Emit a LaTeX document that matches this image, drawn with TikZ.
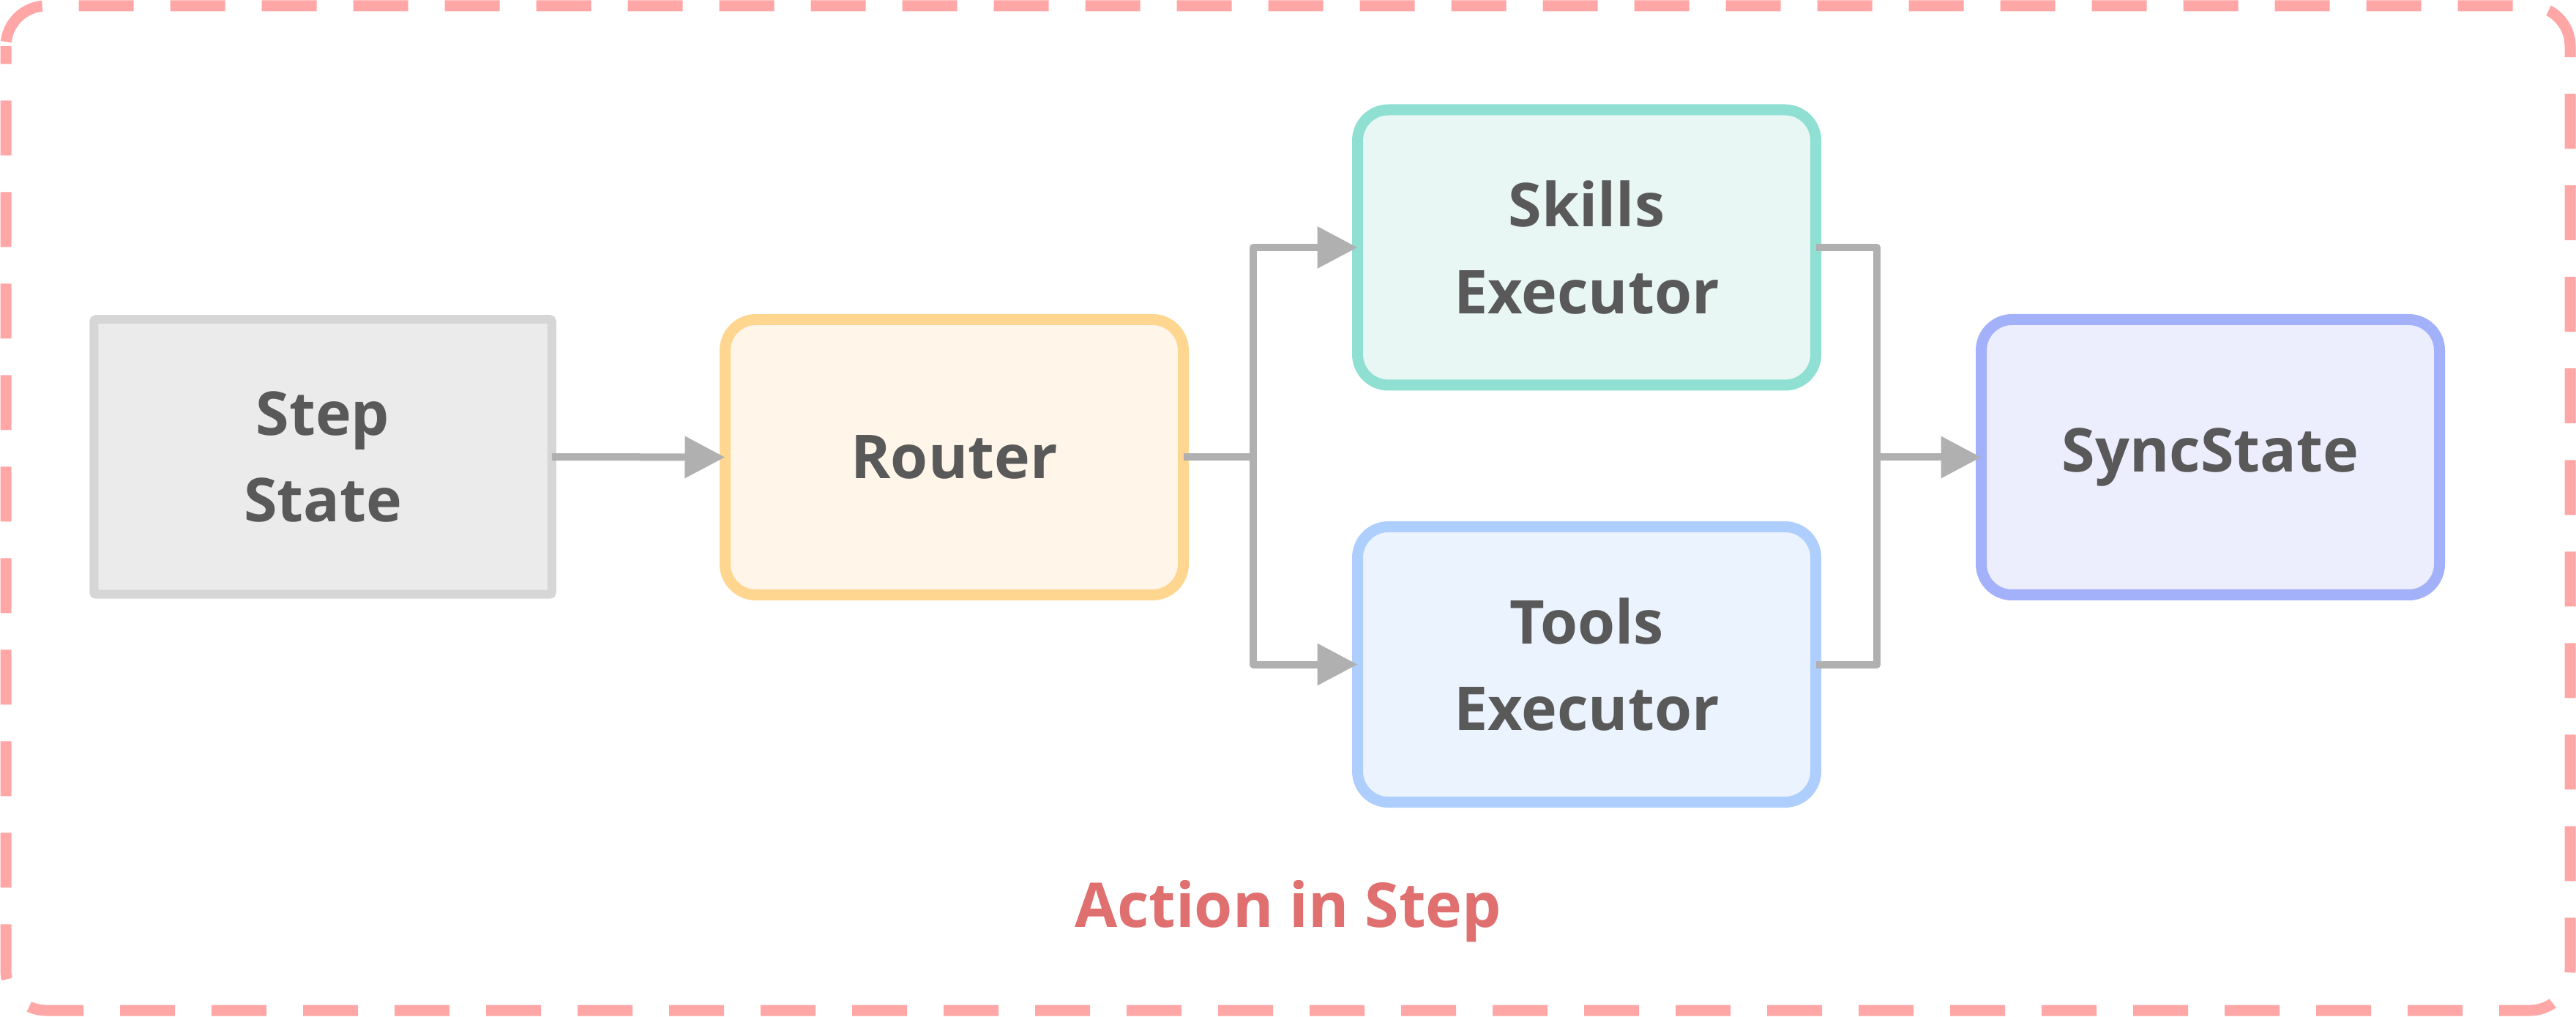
\documentclass[tikz,border=0pt]{standalone}
\usepackage{fontspec}
\setmainfont{Open Sans}
\usepackage{xcolor}
\usetikzlibrary{positioning}
\usetikzlibrary{calc,arrows.meta}

\definecolor{textgray}{HTML}{595959}
\definecolor{linkgray}{HTML}{B0B0B0}
\definecolor{framepink}{HTML}{FFA6A6}
\definecolor{labelred}{HTML}{E06F6F}
\definecolor{stepfill}{HTML}{EBEBEB}
\definecolor{stepdraw}{HTML}{D6D6D6}
\definecolor{routerfill}{HTML}{FFF5E8}
\definecolor{routerdraw}{HTML}{FFD68F}
\definecolor{skillsfill}{HTML}{E8F7F4}
\definecolor{skillsdraw}{HTML}{8FE0D2}
\definecolor{toolsfill}{HTML}{EBF3FF}
\definecolor{toolsdraw}{HTML}{AECFFD}
\definecolor{syncfill}{HTML}{ECEDFD}
\definecolor{syncdraw}{HTML}{A3B0FA}

\tikzset{
  block/.style={rectangle, rounded corners=0.42cm, line width=0.15cm, outer sep=0pt,
    minimum width=6.26cm, minimum height=3.76cm, align=center, text=textgray,
    font=\bfseries\fontsize{23.5}{33.6}\selectfont},
  link/.style={line width=0.10cm, draw=linkgray, line join=round},
  tip/.style={-{Triangle[length=0.55cm,width=0.55cm]}},
  frame/.style={line width=0.15cm, draw=framepink, rounded corners=0.55cm,
    dash pattern=on 0.75cm off 0.5cm, dash phase=1.19cm}
}

\begin{document}
\begin{tikzpicture}
			\useasboundingbox (0,0) rectangle (35.19,13.88);
			\draw[frame] (0.08,13.25) -- (0.08,13.80) -- (35.11,13.80) -- (35.11,0.08) -- (0.08,0.08) -- (0.08,13.25);
			\node[block, rounded corners=0.03cm, line width=0.12cm, minimum width=6.255cm, minimum height=3.755cm, fill=stepfill, draw=stepdraw] (stepstate) at (4.41,7.64) {Step\\State};
			\node[block, fill=routerfill, draw=routerdraw] (router) at (13.035,7.635) {Router};
			\node[block, fill=skillsfill, draw=skillsdraw] (skills) at (21.675,10.50) {Skills\\Executor};
			\node[block, fill=toolsfill, draw=toolsdraw] (tools) at (21.675,4.805) {Tools\\Executor};
			\node[block, fill=syncfill, draw=syncdraw] (sync) at (30.195,7.635) {SyncState};
			\coordinate (split) at (17.12,7.635);
			\coordinate (merge) at (25.64,7.635);
			\draw[link, tip] (stepstate.east) -- (router.west);
			\draw[link] (router.east) -- (split);
			\draw[link, tip] (split) |- (skills.west);
			\draw[link, tip] (split) |- (tools.west);
			\draw[link] (skills.east) -| (merge);
			\draw[link] (tools.east) -| (merge);
			\draw[link, tip] (merge) -- (sync.west);
			\node[anchor=base, text=labelred, font=\bfseries\fontsize{24}{30}\selectfont] (title) at (17.595,1.22) {Action in Step};
\end{tikzpicture}
\end{document}
